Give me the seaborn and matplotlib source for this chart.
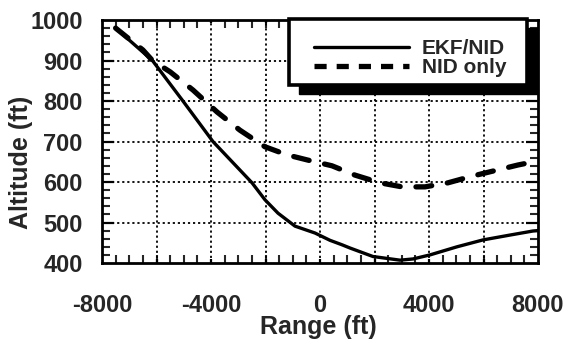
import numpy as np
import pandas as pd
import seaborn as sns
import matplotlib
matplotlib.use("Agg")
import matplotlib.pyplot as plt
from matplotlib.ticker import MultipleLocator
from matplotlib.patches import Rectangle
from matplotlib.transforms import IdentityTransform
from matplotlib.lines import Line2D

# ---- data ----
ekf_range = [-7500, -6150, -5030, -3930, -2495, -2018, -1541, -917, -183, 367, 807,
             1101, 1945, 2936, 3413, 4037, 5028, 5982, 6973, 7817, 8000]
ekf_alt   = [980, 900, 800, 700, 598, 556, 523, 491, 474, 456, 445,
             437, 416, 407, 410, 420, 440, 457, 469, 479, 480]

nid_range = [-7500, -6500, -6150, -5500, -4660, -3780, -2940, -2020, -1211, -440, 440, 1284,
             2202, 3009, 3853, 4697, 5615, 6349, 7266, 8000]
nid_alt   = [980, 926, 900, 872, 827, 773, 728, 687, 667, 654, 640, 617,
             598, 588, 588, 598, 615, 627, 642, 652]

series_names = ["EKF/NID", "NID only"]
x_ticks = [-8000, -4000, 0, 4000, 8000]
y_ticks = [400, 500, 600, 700, 800, 900, 1000]

df = pd.concat([
    pd.DataFrame({"Range": ekf_range, "Altitude": ekf_alt, "Series": series_names[0]}),
    pd.DataFrame({"Range": nid_range, "Altitude": nid_alt, "Series": series_names[1]}),
])

sns.set_style("ticks")
plt.rcParams["font.family"] = ["Liberation Sans", "DejaVu Sans"]
plt.rcParams["font.weight"] = "bold"
plt.rcParams["axes.unicode_minus"] = False

W, H = 570, 343
fig = plt.figure(figsize=(W / 100, H / 100), dpi=100)
ax = fig.add_axes([102 / W, 1 - 263 / H, (538 - 102) / W, (263 - 20) / H])

sns.lineplot(data=df, x="Range", y="Altitude", hue="Series", style="Series",
             palette={series_names[0]: "black", series_names[1]: "black"},
             dashes={series_names[0]: "", series_names[1]: (3.0, 3.0)},
             ax=ax, legend=False, sort=False)
ax.lines[0].set_linewidth(2.4)
ax.lines[0].set_solid_joinstyle("round")
ax.lines[1].set_linewidth(3.8)
ax.lines[1].set_dash_capstyle("round")

ax.set_xlim(-8000, 8000)
ax.set_ylim(400, 1000)
ax.set_xticks(x_ticks)
ax.set_yticks(y_ticks)
ax.xaxis.set_minor_locator(MultipleLocator(500))
ax.yaxis.set_minor_locator(MultipleLocator(20))

# dotted grid every 2000 on x, every 100 on y
for gx in range(-6000, 8000, 2000):
    ax.axvline(gx, color="black", lw=1.3, ls=(0, (1.2, 1.6)), zorder=1)
for gy in range(500, 1000, 100):
    ax.axhline(gy, color="black", lw=1.3, ls=(0, (1.2, 1.6)), zorder=1)

ax.tick_params(axis="both", which="major", direction="in", length=0, top=True, right=True,
               labelsize=17, width=1.6)
ax.tick_params(axis="x", which="major", pad=22)
ax.tick_params(axis="y", which="major", pad=14)
ax.tick_params(axis="both", which="minor", direction="in", length=6, top=True, right=True, width=1.5)
# long ticks at the grid positions
for gx in range(-6000, 8000, 2000):
    ax.plot([gx, gx], [400, 410.5], color="black", lw=1.6, zorder=3, solid_capstyle="butt")
    ax.plot([gx, gx], [1000, 993], color="black", lw=1.6, zorder=3, solid_capstyle="butt")
for gy in range(500, 1000, 100):
    ax.plot([-8000, -7560], [gy, gy], color="black", lw=1.6, zorder=3, solid_capstyle="butt")
    ax.plot([8000, 7560], [gy, gy], color="black", lw=1.6, zorder=3, solid_capstyle="butt")
for t in ax.get_xticklabels() + ax.get_yticklabels():
    t.set_fontweight("bold")
for s in ax.spines.values():
    s.set_linewidth(2)
    s.set_color("black")
ax.set_xlabel("")
ax.set_ylabel("")

fig.text(318 / W, 1 - 327 / H, "Range (ft)", ha="center", va="center", fontsize=18, fontweight="bold")
fig.text(21 / W, 1 - 162 / H, "Altitude (ft)", ha="center", va="center", rotation=90,
         fontsize=18, fontweight="bold")

# legend box (pixel coordinates of the reference) with solid drop shadow
bx0, bx1 = 289, 527
by_top, by_bot = 19, 85
shadow = Rectangle((bx0 + 10, H - by_bot - 9), bx1 - bx0, by_bot - by_top,
                   transform=IdentityTransform(), facecolor="black", edgecolor="black",
                   zorder=9.4, clip_on=False)
box = Rectangle((bx0, H - by_bot), bx1 - bx0, by_bot - by_top,
                transform=IdentityTransform(), facecolor="white", edgecolor="black",
                linewidth=2.6, zorder=9.5, clip_on=False)
ax.add_artist(shadow)
ax.add_artist(box)

handles = [Line2D([], [], color="black", lw=2.4),
           Line2D([], [], color="black", lw=3.8, ls=(0, (2.3, 1.9)), dash_capstyle="butt")]
leg = ax.legend(handles, series_names, loc="center",
                bbox_to_anchor=((410 - 102) / 436, (263 - 58) / 243),
                handlelength=4.6, handletextpad=0.6,
                labelspacing=0.0, borderpad=0.0, frameon=False,
                prop={"weight": "bold", "size": 15})
leg.set_zorder(10)

fig.savefig("out.png", dpi=100)
